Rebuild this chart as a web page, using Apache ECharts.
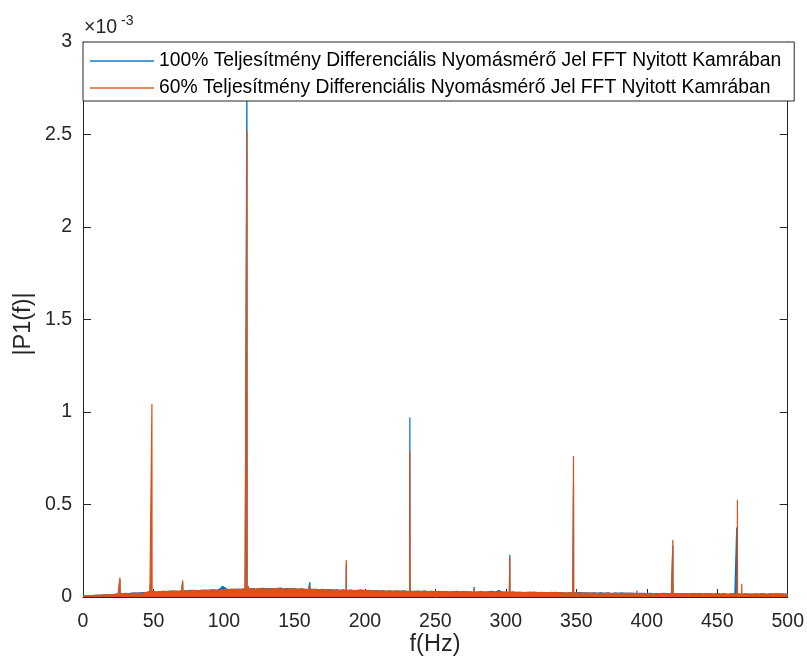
<!DOCTYPE html>
<html>
<head>
<meta charset="utf-8">
<script src="https://cdn.jsdelivr.net/npm/echarts@6/dist/echarts.min.js"></script>
<style>
html,body{margin:0;padding:0;background:#fff;}
#chart{width:807px;height:664px;}
</style>
</head>
<body>
<div id="chart"></div>
<script>
// Values in units of 1e-3 (axis shows ×10^-3)
const seriesNames = [
  '100% Teljesítmény Differenciális Nyomásmérő Jel FFT Nyitott Kamrában',
  '60% Teljesítmény Differenciális Nyomásmérő Jel FFT Nyitott Kamrában'
];
const xTicks = [0, 50, 100, 150, 200, 250, 300, 350, 400, 450, 500];
const yTicks = [0, 0.5, 1, 1.5, 2, 2.5, 3];

const noiseStart = 0, noiseStep = 2.5;
const noise100 = [
  0.004,0.006,0.008,0.007,0.010,0.009,0.012,0.011,0.013,
  0.014,0.016,0.018,0.020,0.019,0.021,0.020,0.022,0.024,0.023,0.030,
  0.028,0.026,0.029,0.027,0.030,0.032,0.029,0.031,0.033,0.030,0.034,0.036,0.033,0.035,0.038,0.034,0.037,0.039,0.036,0.045,
  0.058,0.040,0.042,0.039,0.043,0.041,0.044,0.042,0.046,0.043,0.045,0.047,0.044,0.046,0.043,0.045,0.048,0.044,0.046,0.043,
  0.045,0.042,0.044,0.041,0.043,0.040,0.042,0.039,0.041,0.038,0.040,0.037,0.039,0.036,0.038,0.035,0.037,0.034,0.036,0.038,
  0.034,0.036,0.033,0.035,0.032,0.034,0.031,0.033,0.030,0.032,0.031,0.033,0.030,0.032,0.029,0.031,0.030,0.032,0.029,0.031,
  0.028,0.030,0.027,0.029,0.026,0.028,0.030,0.027,0.029,0.026,0.028,0.025,0.027,0.029,0.026,0.028,0.030,0.027,0.035,0.026,
  0.027,0.025,0.026,0.024,0.026,0.023,0.025,0.024,0.026,0.023,0.025,0.022,0.024,0.023,0.025,0.022,0.024,0.021,0.023,0.022,
  0.022,0.024,0.021,0.023,0.020,0.022,0.021,0.023,0.020,0.022,0.019,0.021,0.020,0.022,0.019,0.021,0.020,0.018,0.020,0.019,
  0.018,0.020,0.017,0.019,0.018,0.020,0.017,0.019,0.016,0.018,0.017,0.019,0.016,0.018,0.017,0.019,0.016,0.018,0.017,0.016,
  0.018,0.016,0.017,0.015,0.017,0.016,0.018,0.015,0.017,0.016,0.015,0.017,0.016,0.018,0.015,0.017,0.016,0.015,0.017,0.016,0.015
];
const noise60 = [
  0.005,0.007,0.006,0.009,0.008,0.010,0.012,0.011,0.013,
  0.015,0.017,0.016,0.019,0.018,0.020,0.022,0.019,0.021,0.025,0.028,
  0.030,0.027,0.029,0.032,0.028,0.031,0.033,0.030,0.032,0.035,0.031,0.034,0.036,0.033,0.035,0.037,0.034,0.038,0.035,0.037,
  0.040,0.038,0.041,0.043,0.040,0.042,0.045,0.041,0.044,0.042,0.046,0.043,0.045,0.042,0.044,0.046,0.043,0.045,0.042,0.044,
  0.043,0.041,0.044,0.040,0.042,0.039,0.041,0.038,0.040,0.037,0.039,0.036,0.038,0.035,0.037,0.034,0.036,0.033,0.035,0.034,
  0.033,0.035,0.032,0.034,0.031,0.033,0.030,0.032,0.031,0.033,0.030,0.032,0.029,0.031,0.030,0.032,0.029,0.031,0.028,0.030,
  0.029,0.027,0.030,0.028,0.026,0.029,0.027,0.028,0.026,0.028,0.025,0.027,0.026,0.028,0.025,0.027,0.026,0.025,0.027,0.025,
  0.026,0.024,0.027,0.025,0.023,0.025,0.024,0.026,0.023,0.025,0.022,0.024,0.023,0.025,0.022,0.024,0.023,0.021,0.023,0.022,
  0.023,0.021,0.022,0.020,0.022,0.021,0.019,0.021,0.020,0.022,0.019,0.021,0.020,0.019,0.021,0.018,0.020,0.019,0.018,0.020,
  0.019,0.017,0.018,0.016,0.018,0.017,0.015,0.017,0.016,0.018,0.015,0.017,0.016,0.015,0.017,0.016,0.015,0.017,0.016,0.015,
  0.016,0.015,0.017,0.014,0.016,0.015,0.014,0.016,0.015,0.014,0.016,0.015,0.014,0.016,0.015,0.014,0.016,0.018,0.015,0.014,0.015
];

// spectral peaks
const peakFreq100 = [26.2, 47.8, 70.7, 99.0, 116.3, 161.0, 186.8, 231.9, 277.5, 302.8, 348.0, 418.5, 463.8];
const peakVal100  = [0.095, 0.070, 0.080, 0.060, 2.850, 0.080, 0.180, 0.970, 0.055, 0.228, 0.600, 0.275, 0.375];
const peakFreq60  = [26.2, 48.9, 70.7, 117.3, 116.3, 160.5, 186.8, 231.9, 277.5, 302.8, 348.0, 393.0, 418.5, 464.3, 467.4, 490.0];
const peakVal60   = [0.105, 1.045, 0.090, 0.060, 2.520, 0.060, 0.200, 0.790, 0.045, 0.215, 0.762, 0.035, 0.310, 0.525, 0.072, 0.025];

function buildSeries(noise, pf, pv) {
  const pts = noise.map((v, i) => [noiseStart + i * noiseStep, v]);
  pf.forEach((f, k) => {
    const i = Math.min(noise.length - 1, Math.round((f - noiseStart) / noiseStep));
    const base = noise[i];
    pts.push([f - 0.12, base], [f, pv[k]], [f + 0.12, base]);
  });
  pts.sort((a, b) => a[0] - b[0]);
  return pts;
}

const colors = ['#0072BD', '#D95319'];
const FONT = '"Liberation Sans", Arial, sans-serif';
const axisColor = '#262626';

const chart = echarts.init(document.getElementById('chart'), null, {renderer: 'canvas'});
const data100 = buildSeries(noise100, peakFreq100, peakVal100);
const data60 = buildSeries(noise60, peakFreq60, peakVal60);

const axisCommon = {
  axisLine: {show: true, onZero: false, lineStyle: {color: axisColor, width: 1}},
  axisTick: {show: true, inside: true, length: 8, lineStyle: {color: axisColor}},
  splitLine: {show: false}
};

chart.setOption({
  animation: false,
  backgroundColor: '#ffffff',
  grid: {left: 83, right: 19, top: 42, bottom: 67, containLabel: false},
  xAxis: [Object.assign({
    type: 'value', min: 0, max: 500, interval: 50,
    axisLabel: {color: axisColor, fontSize: 19.5, fontFamily: FONT, margin: 15,
      formatter: v => xTicks.indexOf(v) >= 0 ? String(v) : ''}
  }, axisCommon), Object.assign({
    type: 'value', min: 0, max: 500, interval: 50, position: 'top',
    axisLabel: {show: false}
  }, axisCommon)],
  yAxis: [Object.assign({
    type: 'value', min: 0, max: 3, interval: 0.5,
    axisLabel: {color: axisColor, fontSize: 19.5, fontFamily: FONT, margin: 11,
      formatter: v => yTicks.indexOf(v) >= 0 ? String(v) : ''}
  }, axisCommon), Object.assign({
    type: 'value', min: 0, max: 3, interval: 0.5, position: 'right',
    axisLabel: {show: false}
  }, axisCommon)],
  legend: {
    show: true,
    left: 83, top: 42,
    orient: 'vertical',
    backgroundColor: '#ffffff',
    borderColor: axisColor, borderWidth: 1, borderRadius: 0,
    padding: [9, 13, 3, 7],
    itemGap: 7,
    itemWidth: 64, itemHeight: 2,
    icon: 'rect',
    selectedMode: false,
    textStyle: {color: '#000000', fontSize: 19.3, fontFamily: FONT, lineHeight: 20},
    data: seriesNames.map((n, i) => ({name: n, itemStyle: {color: colors[i], opacity: 0.7}}))
  },
  series: [{
    name: seriesNames[0], type: 'line', data: data100,
    symbol: 'none', showSymbol: false, sampling: 'none',
    lineStyle: {color: colors[0], width: 1.2},
    itemStyle: {color: colors[0]},
    areaStyle: {color: colors[0], opacity: 1, origin: 'start'},
    z: 2
  }, {
    name: seriesNames[1], type: 'line', data: data60,
    symbol: 'none', showSymbol: false, sampling: 'none',
    lineStyle: {color: colors[1], width: 1.2},
    itemStyle: {color: colors[1]},
    areaStyle: {color: colors[1], opacity: 1, origin: 'start'},
    z: 3
  }],
  graphic: [{
    type: 'text', z: 10, x: 84, y: 28,
    style: {text: '×10', fontSize: 19.5, fontFamily: FONT, fill: axisColor, align: 'left', verticalAlign: 'middle'}
  }, {
    type: 'text', z: 10, x: 121, y: 21,
    style: {text: '-3', fontSize: 14, fontFamily: FONT, fill: axisColor, align: 'left', verticalAlign: 'middle'}
  }, {
    type: 'text', z: 10,
    x: 435, y: 645,
    style: {text: 'f(Hz)', fontSize: 23.5, fontFamily: FONT, fill: axisColor, align: 'center', verticalAlign: 'middle'}
  }, {
    type: 'text', z: 10,
    x: 24, y: 324, rotation: Math.PI / 2,
    style: {text: '|P1(f)|', fontSize: 23.5, fontFamily: FONT, fill: axisColor, align: 'center', verticalAlign: 'middle'}
  }]
});
</script>
</body>
</html>
